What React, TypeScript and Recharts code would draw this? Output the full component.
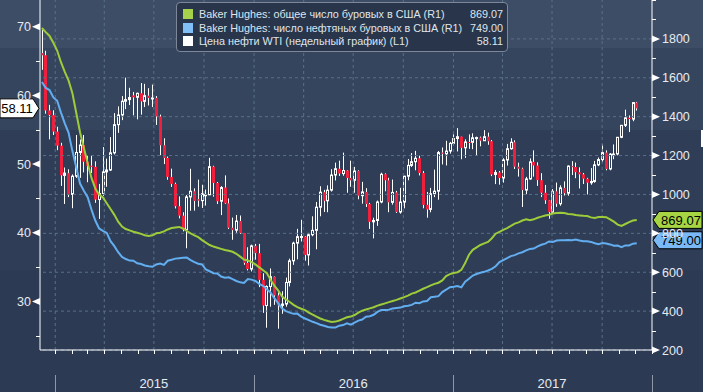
import React from "react";
import {
  ComposedChart,
  Bar,
  Line,
  XAxis,
  YAxis,
  ReferenceLine,
  ReferenceDot,
} from "recharts";

const FONT = "'Liberation Sans', Arial, sans-serif";
const RED = "#f0203c";
const GREEN = "#9dcc3a";
const BLUE = "#62aef0";
const GRID = "#587089";
const TXT = "#e6ebf1";

// weekly WTI candles, first bar = week of 1 Dec 2014, last = week of 27 Nov 2017
const wtiOpen = [
  66.15, 65.84, 57.81, 57.13, 54.73, 52.69, 48.36, 48.69, 45.59, 48.24,
  51.69, 52.78, 50.34, 49.76, 49.61, 44.84, 45.72, 48.87, 49.14, 51.64,
  55.74, 57.15, 59.15, 59.39, 60.0, 59.72, 60.3, 59.13, 59.96, 59.61,
  59.63, 56.93, 52.74, 50.89, 48.14, 47.12, 43.87, 42.5, 40.45, 45.22,
  46.05, 44.9, 44.68, 45.4, 45.54, 49.63, 47.26, 44.6, 46.59, 44.29,
  40.74, 40.39, 41.71, 39.97, 35.62, 34.73, 38.1, 37.04, 33.16, 29.42,
  32.19, 33.62, 30.89, 29.44, 29.64, 32.78, 35.92, 38.5, 39.44, 39.46,
  36.79, 39.72, 40.36, 43.73, 45.92, 44.66, 46.21, 48.41, 49.33, 48.62,
  49.07, 47.98, 47.64, 48.99, 45.41, 45.95, 44.19, 41.6, 41.8, 44.49,
  48.52, 47.64, 44.44, 45.88, 43.03, 44.48, 48.24, 49.81, 50.35, 50.85,
  48.7, 44.07, 43.41, 45.69, 46.06, 51.68, 51.5, 51.9, 53.02, 53.72,
  53.99, 52.37, 53.22, 53.17, 53.83, 53.86, 53.4, 53.99, 53.33, 48.49,
  48.78, 47.97, 50.6, 52.24, 53.18, 49.62, 49.33, 46.22, 47.84, 50.33,
  49.8, 47.66, 45.83, 44.74, 43.01, 46.04, 44.23, 46.54, 45.77, 49.71,
  49.58, 48.82, 48.51, 47.87, 47.29, 47.48, 49.89, 50.66, 51.67, 49.29,
  51.45, 51.47, 53.9, 55.64, 56.74, 56.55, 58.95,
];
const wtiHigh = [
  69.5, 66.5, 58.62, 57.83, 55.44, 53.1, 49.5, 49.25, 48.5, 54.24,
  53.57, 54.24, 51.28, 51.28, 50.4, 47.12, 52.48, 50.8, 53.93, 57.42,
  58.4, 59.9, 62.58, 61.1, 60.5, 60.4, 61.8, 61.68, 61.05, 61.57,
  59.9, 57.2, 53.76, 51.1, 49.34, 47.3, 45.3, 42.99, 45.5, 49.32,
  46.47, 47.74, 47.0, 46.3, 50.92, 49.76, 47.4, 46.8, 48.36, 45.0,
  42.22, 42.6, 42.52, 39.98, 37.9, 38.29, 38.39, 38.39, 34.12, 32.35,
  34.82, 33.65, 31.34, 31.5, 33.49, 36.24, 38.71, 40.58, 41.9, 39.53,
  39.99, 42.41, 44.49, 46.78, 46.25, 46.91, 49.26, 50.21, 50.5, 51.67,
  49.12, 50.5, 49.6, 49.1, 47.42, 46.5, 44.35, 42.2, 44.7, 48.75,
  48.65, 48.0, 47.75, 46.1, 46.55, 48.3, 50.74, 51.6, 51.93, 51.23,
  48.98, 45.95, 46.54, 49.2, 51.91, 52.42, 53.39, 53.23, 54.33, 55.24,
  54.0, 53.6, 54.33, 54.48, 54.0, 54.0, 54.94, 54.58, 53.51, 49.14,
  48.99, 50.85, 52.94, 53.76, 53.46, 50.21, 49.47, 48.14, 50.83, 52.0,
  50.26, 48.68, 46.97, 44.78, 46.38, 47.32, 46.91, 47.49, 49.81, 50.43,
  50.22, 49.53, 48.71, 48.0, 49.42, 50.46, 50.96, 52.86, 52.0, 51.6,
  52.86, 53.95, 55.7, 57.92, 57.08, 58.98, 59.05,
];
const wtiLow = [
  63.72, 57.34, 53.6, 54.24, 52.03, 46.83, 44.2, 45.2, 43.58, 48.0,
  48.0, 48.8, 47.36, 48.7, 44.37, 42.03, 45.38, 46.7, 49.0, 51.4,
  54.55, 56.4, 58.0, 58.6, 57.1, 56.51, 57.2, 58.3, 58.53, 58.3,
  55.7, 51.3, 50.0, 47.72, 46.68, 43.55, 42.1, 40.21, 37.75, 43.21,
  43.22, 43.8, 43.62, 43.97, 45.49, 45.26, 44.2, 42.58, 44.19, 40.55,
  38.99, 40.0, 39.85, 35.35, 34.53, 34.38, 36.1, 32.1, 28.36, 26.19,
  29.25, 29.52, 26.05, 28.22, 29.25, 32.2, 35.34, 36.14, 38.74, 35.95,
  35.24, 39.5, 37.61, 42.41, 43.03, 43.0, 46.0, 47.62, 48.28, 48.3,
  45.83, 46.7, 45.83, 44.88, 44.24, 43.76, 40.57, 39.19, 41.02, 44.3,
  46.04, 43.0, 44.1, 42.89, 42.79, 43.56, 47.65, 49.59, 49.1, 48.35,
  43.57, 42.2, 42.99, 45.2, 44.82, 49.95, 49.8, 51.53, 52.7, 51.84,
  50.71, 50.91, 52.22, 52.17, 51.22, 52.59, 53.4, 52.81, 48.25, 47.09,
  47.01, 47.31, 49.79, 52.1, 49.29, 48.18, 43.76, 45.62, 47.73, 48.18,
  46.83, 45.2, 44.22, 42.05, 42.81, 43.78, 43.94, 45.43, 45.4, 48.41,
  47.95, 46.46, 47.1, 45.58, 47.0, 47.28, 49.7, 50.3, 49.1, 49.1,
  50.71, 51.27, 53.77, 55.4, 54.66, 56.24, 57.8,
];
const wtiClose = [
  65.84, 57.81, 57.13, 54.73, 52.69, 48.36, 48.69, 45.59, 48.24, 51.69,
  52.78, 50.34, 49.76, 49.61, 44.84, 45.72, 48.87, 49.14, 51.64, 55.74,
  57.15, 59.15, 59.39, 59.69, 59.72, 60.3, 59.13, 59.96, 59.61, 59.63,
  56.93, 52.74, 50.89, 48.14, 47.12, 43.87, 42.5, 40.45, 45.22, 46.05,
  44.63, 44.68, 45.7, 45.54, 49.63, 47.26, 44.6, 46.59, 44.29, 40.74,
  40.39, 41.71, 39.97, 35.62, 34.73, 38.1, 37.04, 33.16, 29.42, 32.19,
  33.62, 30.89, 29.44, 29.64, 32.78, 35.92, 38.5, 39.44, 39.46, 36.79,
  39.72, 40.36, 43.73, 45.92, 44.66, 46.21, 48.41, 49.33, 48.62, 49.07,
  47.98, 47.64, 48.99, 45.41, 45.95, 44.19, 41.6, 41.8, 44.49, 48.52,
  47.64, 44.44, 45.88, 43.03, 44.48, 48.24, 49.81, 50.35, 50.85, 48.7,
  44.07, 43.41, 45.69, 46.06, 51.68, 51.5, 51.9, 53.02, 53.72, 53.99,
  52.37, 53.22, 53.17, 53.83, 53.86, 53.4, 53.99, 53.33, 48.49, 48.78,
  47.97, 50.6, 52.24, 53.18, 49.62, 49.33, 46.22, 47.84, 50.33, 49.8,
  47.66, 45.83, 44.74, 43.01, 46.04, 44.23, 46.54, 45.77, 49.71, 49.58,
  48.82, 48.51, 47.87, 47.29, 47.48, 49.89, 50.66, 51.67, 49.29, 51.45,
  51.47, 53.9, 55.64, 56.74, 56.55, 58.95, 58.11,
];

// Baker Hughes, same weeks
const totalRigs = [
  1856, 1835, 1815, 1780, 1740, 1680, 1630, 1585, 1520, 1420,
  1320, 1240, 1160, 1085, 1030, 1000, 985, 955, 925, 895,
  860, 835, 822, 815, 808, 803, 797, 790, 786, 790,
  800, 803, 810, 820, 827, 830, 833, 825, 812, 800,
  790, 780, 765, 752, 740, 732, 726, 720, 714, 710,
  705, 695, 680, 665, 660, 652, 640, 625, 610, 595,
  560, 530, 505, 475, 460, 447, 432, 420, 412, 405,
  392, 382, 372, 362, 355, 349, 344, 346, 352, 360,
  368, 372, 380, 392, 402, 408, 414, 420, 428, 434,
  440, 446, 452, 458, 465, 472, 480, 490, 496, 505,
  515, 523, 532, 540, 546, 558, 580, 590, 596, 600,
  612, 647, 690, 715, 728, 740, 748, 756, 775, 798,
  808, 818, 827, 838, 850, 856, 866, 872, 868, 872,
  880, 886, 892, 896, 902, 905, 906, 905, 900, 898,
  894, 892, 890, 889, 882, 879, 884, 884, 883, 872,
  860, 845, 838, 848, 858, 866, 869.07,
];
const oilRigs = [
  1578, 1548, 1537, 1499, 1482, 1421, 1366, 1317, 1223, 1140,
  1056, 1019, 986, 922, 866, 825, 813, 802, 760, 734,
  703, 679, 668, 660, 659, 646, 642, 635, 631, 628,
  640, 645, 638, 659, 664, 670, 672, 674, 675, 662,
  652, 644, 640, 614, 605, 595, 594, 578, 572, 574,
  564, 555, 548, 545, 565, 562, 555, 540, 530, 512,
  495, 465, 440, 413, 400, 392, 386, 387, 372, 362,
  354, 345, 338, 330, 325, 318, 316, 316, 325, 328,
  337, 330, 341, 351, 357, 371, 374, 381, 396, 406,
  406, 407, 414, 416, 418, 425, 428, 432, 443, 441,
  450, 452, 471, 474, 477, 498, 510, 523, 525, 529,
  522, 551, 566, 583, 591, 597, 602, 609, 617, 631,
  652, 662, 672, 683, 688, 697, 703, 712, 720, 722,
  733, 741, 747, 758, 756, 763, 765, 764, 766, 765,
  768, 763, 759, 759, 756, 749, 744, 750, 748, 743,
  736, 737, 729, 738, 738, 747, 749,
];

const seriesNames = [
  "Baker Hughes: общее число буровых в США (R1)",
  "Baker Hughes: число нефтяных буровых в США (R1)",
  "Цена нефти WTI (недельный график) (L1)",
];
const lastValues = ["869.07", "749.00", "58.11"];
const yearLabels = ["2015", "2016", "2017"];
const wtiTicks = [25, 30, 35, 40, 45, 50, 55, 60, 65, 70];
const rigTicks = [
  200, 300, 400, 500, 600, 700, 800, 900, 1000, 1100, 1200, 1300, 1400,
  1500, 1600, 1700, 1800, 1900, 2000,
];
const rigGrid = [200, 400, 600, 800, 1000, 1200, 1400, 1600, 1800];

// month starts on the week axis, Jan 2015 .. Jan 2018
const monthTicks: number[] = [];
for (let k = 0; k <= 36; k++) {
  const days = (Date.UTC(2015, k, 1) - Date.UTC(2015, 0, 1)) / 86400000;
  monthTicks.push(Math.min(160, 3.5 + days / 7));
}
const quarterLines = monthTicks.filter((_, k) => k % 3 === 0 && k < 36);

const data = wtiClose.map((c, i) => ({
  i,
  o: wtiOpen[i],
  h: wtiHigh[i],
  l: wtiLow[i],
  c,
  range: [wtiLow[i], wtiHigh[i]],
  total: totalRigs[i],
  oil: oilRigs[i],
}));

const Candle = (props: any) => {
  const { x, y, width, height, payload } = props;
  if (!payload || height == null) return null;
  const { o, h, l, c } = payload;
  const cx = Math.round(x + width / 2);
  const ppu = height / (h - l || 1);
  const yO = y + (h - o) * ppu;
  const yC = y + (h - c) * ppu;
  const top = Math.min(yO, yC);
  const bh = Math.max(Math.abs(yO - yC), 1);
  const wx = cx + 0.5;
  if (c >= o) {
    return (
      <g>
        <line x1={wx} x2={wx} y1={y} y2={top} stroke="#fff" />
        <line x1={wx} x2={wx} y1={top + bh} y2={y + height} stroke="#fff" />
        <rect x={cx - 0.5} y={top} width={2} height={Math.max(bh, 1)} fill="none" stroke="#fff" />
      </g>
    );
  }
  return (
    <g>
      <line x1={wx} x2={wx} y1={y} y2={y + height} stroke="#fff" />
      <rect x={cx - 1} y={top} width={3} height={bh} fill={RED} />
    </g>
  );
};

const LeftTick = ({ x, y, payload }: any) => {
  const v = payload.value;
  if (v % 10 !== 0) {
    return <line x1={x - 4} x2={x} y1={Math.round(y) + 0.5} y2={Math.round(y) + 0.5} stroke="#fff" />;
  }
  return (
    <g>
      <polygon points={`${x},${y - 3.5} ${x - 8},${y} ${x},${y + 3.5}`} fill="#fff" />
      <text x={x - 9} y={y} dy="0.36em" textAnchor="end" fill={TXT} fontSize={12.5} fontFamily={FONT}>
        {v}
      </text>
    </g>
  );
};

const RightTick = ({ x, y, payload }: any) => {
  const v = payload.value;
  if (v % 200 !== 0 || v === 2000) {
    return <line x1={x} x2={x + 4} y1={Math.round(y) + 0.5} y2={Math.round(y) + 0.5} stroke="#fff" />;
  }
  return (
    <g>
      <polygon points={`${x},${y - 3.5} ${x + 8},${y} ${x},${y + 3.5}`} fill="#fff" />
      <text x={x + 10} y={y} dy="0.36em" textAnchor="start" fill={TXT} fontSize={12.5} fontFamily={FONT}>
        {v}
      </text>
    </g>
  );
};

const MonthTick = ({ x, y, index }: any) => {
  const m = index % 12;
  const px = Math.round(x) + 0.5;
  return (
    <g>
      <line x1={px} x2={px} y1={y} y2={y + 4} stroke="#fff" />
      {m === 0 && <line x1={px} x2={px} y1={y + 25} y2={y + 42} stroke="#8d97a7" />}
      {m === 6 && (
        <text x={x} y={y + 38} textAnchor="middle" fill={TXT} fontSize={13} fontFamily={FONT}>
          {yearLabels[Math.floor(index / 12)]}
        </text>
      )}
    </g>
  );
};

const rightBadge = (fill: string, label: string, shift: number) => (p: any) => {
  const cx = p.cx;
  const cy = p.cy + shift;
  return (
    <g>
      <polygon
        points={`${cx + 1},${cy} ${cx + 7},${cy - 8.5} ${cx + 50},${cy - 8.5} ${cx + 50},${cy + 8.5} ${cx + 7},${cy + 8.5}`}
        fill={fill}
        stroke="#000"
      />
      <text x={cx + 29} y={cy} dy="0.36em" textAnchor="middle" fontSize={13} fill="#000" fontFamily={FONT}>
        {label}
      </text>
    </g>
  );
};

const leftBadge = (label: string) => (p: any) => {
  const cx = p.cx;
  const cy = p.cy;
  return (
    <g>
      <polygon
        points={`${cx - 40},${cy - 9.5} ${cx - 7},${cy - 9.5} ${cx - 1},${cy} ${cx - 7},${cy + 9.5} ${cx - 40},${cy + 9.5}`}
        fill="#fff"
        stroke="#000"
      />
      <text x={cx - 23} y={cy} dy="0.36em" textAnchor="middle" fontSize={13} fill="#000" fontFamily={FONT}>
        {label}
      </text>
    </g>
  );
};

const legendColors = ["#a5d24a", "#80bff7", "#ffffff"];

export default function App() {
  return (
    <div
      style={{
        position: "absolute",
        left: 0,
        top: 0,
        width: 703,
        height: 392,
        background:
          "linear-gradient(to bottom, #3e4d66 0px, #3e4d66 48px, #36455e 48px, #36455e 130px, #2f3d57 130px, #2f3d57 270px, #2d3a54 270px, #2d3a54 392px)",
        fontFamily: FONT,
      }}
    >
      <ComposedChart width={703} height={392} data={data} margin={{ top: 0, right: 0, bottom: 0, left: 0 }}>
        <XAxis
          dataKey="i"
          type="number"
          domain={[-0.5, 160]}
          allowDataOverflow
          ticks={monthTicks}
          interval={0}
          height={42}
          tickSize={0}
          tickMargin={0}
          tickLine={false}
          axisLine={{ stroke: "#fff" }}
          tick={<MonthTick />}
        />
        <YAxis
          yAxisId="left"
          orientation="left"
          width={40}
          domain={[22.95, 73.88]}
          allowDataOverflow
          ticks={wtiTicks}
          interval={0}
          tickSize={0}
          tickMargin={0}
          tickLine={false}
          axisLine={{ stroke: "#fff" }}
          tick={<LeftTick />}
        />
        <YAxis
          yAxisId="right"
          orientation="right"
          width={51}
          domain={[200, 2000]}
          allowDataOverflow
          ticks={rigTicks}
          interval={0}
          tickSize={0}
          tickMargin={0}
          tickLine={false}
          axisLine={{ stroke: "#fff" }}
          tick={<RightTick />}
        />
        {rigGrid.map((v) => (
          <ReferenceLine key={"h" + v} yAxisId="right" y={v} stroke={GRID} strokeDasharray="3 3" />
        ))}
        {quarterLines.map((v) => (
          <ReferenceLine key={"v" + v} yAxisId="right" x={v} stroke={GRID} strokeDasharray="3 3" />
        ))}
        <Bar yAxisId="left" dataKey="range" barSize={3} shape={<Candle />} isAnimationActive={false} />
        <Line yAxisId="right" dataKey="total" stroke={GREEN} strokeWidth={2} dot={false} isAnimationActive={false} />
        <Line yAxisId="right" dataKey="oil" stroke={BLUE} strokeWidth={2} dot={false} isAnimationActive={false} />
        <ReferenceDot yAxisId="left" x={-0.5} y={58.11} r={0} ifOverflow="visible" shape={leftBadge(lastValues[2])} />
        <ReferenceDot yAxisId="right" x={160} y={869.07} r={0} ifOverflow="visible" shape={rightBadge("#a6d443", lastValues[0], 0)} />
        <ReferenceDot yAxisId="right" x={160} y={749} r={0} ifOverflow="visible" shape={rightBadge("#7ab9f5", lastValues[1], -3)} />
      </ComposedChart>

      <div
        style={{
          position: "absolute",
          left: 176,
          top: 2,
          width: 332,
          height: 50,
          boxSizing: "border-box",
          background: "#28354b",
          border: "1px solid #7d8799",
          borderRadius: 4,
          color: "#dfe5ec",
          fontSize: 10.8,
        }}
      >
        {seriesNames.map((name, k) => (
          <div
            key={name}
            style={{ position: "absolute", left: 0, top: 4 + k * 13.5, width: 330, height: 14, lineHeight: "14px" }}
          >
            <div style={{ position: "absolute", left: 6, top: 2, width: 10, height: 10, background: legendColors[k] }} />
            <span style={{ position: "absolute", left: 22, whiteSpace: "nowrap" }}>{name}</span>
            <span style={{ position: "absolute", right: 4, whiteSpace: "nowrap" }}>{lastValues[k]}</span>
          </div>
        ))}
      </div>
      <div style={{ position: "absolute", left: 701, top: 130, width: 2, height: 17, background: "#fff" }} />
    </div>
  );
}
